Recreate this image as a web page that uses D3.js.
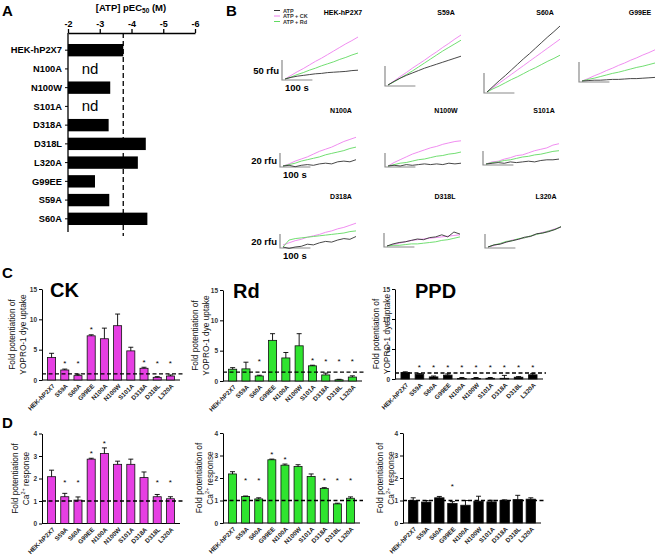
<!DOCTYPE html>
<html>
<head>
<meta charset="utf-8">
<script src="https://cdnjs.cloudflare.com/ajax/libs/d3/7.8.5/d3.min.js"></script>
<style>
body { margin: 0; background: #fff; }
svg { display: block; font-family: "Liberation Sans", Arial, sans-serif; }
</style>
</head>
<body>
<svg id="chart" width="658" height="560"></svg>
<script>
// ---- panel A : pEC50 ----
var mutantsA = ["HEK-hP2X7", "N100A", "N100W", "S101A", "D318A", "D318L", "L320A", "G99EE", "S59A", "S60A"];
var pec50 = [-3.74, null, -3.33, null, -3.28, -4.45, -4.2, -2.85, -3.3, -4.5];
var pec50Ticks = [-2, -3, -4, -5, -6];
var pec50Wt = -3.74;

// ---- panel B : dye uptake traces (rfu every 20 s) ----
var traceTime = [0, 20, 40, 60, 80, 100, 120, 140, 160, 180, 200, 220, 240];
var traceNames = ["HEK-hP2X7", "S59A", "S60A", "G99EE", "N100A", "N100W", "S101A", "D318A", "D318L", "L320A"];
var legendNames = ["ATP", "ATP + CK", "ATP + Rd"];
var traceAtp = [
    [0, 4, 7, 9, 11, 13, 14, 16, 17, 18, 19, 21, 22],
    [0, 9, 17, 24, 30, 36, 42, 47, 52, 57, 62, 67, 72],
    [0, 14, 28, 41, 55, 69, 83, 96, 110, 124, 138, 151, 165],
    [0, 1, 2, 2, 3, 4, 4, 5, 6, 6, 7, 8, 9],
    [0, 1, -1, 1, 2, 1, 3, 4, 3, 6, 7, 6, 9],
    [0, 1, 0, 2, 1, 2, 3, 2, 3, 2, 4, 3, 4],
    [0, 1, 2, 1, 3, 2, 3, 4, 3, 5, 6, 6, 7],
    [0, -2, 0, 1, 4, 3, 6, 8, 7, 10, 12, 11, 15],
    [0, 3, 5, 6, 8, 10, 9, 12, 13, 16, 13, 20, 17],
    [0, 3, 4, 7, 9, 11, 14, 15, 19, 20, 22, 25, 29]
];
var traceCk = [
    [0, 9, 18, 26, 35, 44, 52, 61, 70, 79, 88, 96, 105],
    [0, 10, 21, 31, 42, 52, 62, 73, 83, 94, 104, 115, 125],
    [0, 11, 22, 33, 44, 55, 66, 77, 88, 99, 110, 121, 132],
    [0, 6, 13, 19, 26, 32, 39, 45, 52, 58, 65, 71, 78],
    [0, 3, 7, 10, 13, 17, 21, 24, 27, 31, 35, 38, 41],
    [0, 5, 9, 13, 17, 20, 23, 26, 28, 31, 33, 35, 36],
    [0, 3, 4, 7, 9, 12, 13, 16, 19, 21, 23, 27, 29],
    [3, 6, 9, 11, 14, 16, 18, 21, 23, 26, 28, 31, 34],
    [0, 2, 4, 6, 8, 9, 10, 11, 12, 13, 14, 15, 16],
    [0, 2, 5, 7, 10, 11, 13, 16, 18, 21, 23, 26, 28]
];
var traceRd = [
    [0, 5, 11, 16, 22, 27, 33, 38, 43, 49, 54, 60, 65],
    [0, 8, 17, 26, 35, 45, 55, 65, 75, 85, 94, 103, 112],
    [0, 8, 15, 23, 31, 38, 46, 54, 61, 69, 77, 84, 92],
    [0, 4, 7, 11, 15, 19, 22, 26, 30, 34, 37, 41, 45],
    [0, 2, 4, 7, 9, 11, 13, 16, 18, 20, 22, 25, 27],
    [0, 2, 4, 5, 7, 9, 10, 12, 14, 15, 17, 18, 20],
    [0, 2, 3, 5, 6, 8, 10, 11, 13, 14, 16, 18, 19],
    [0, 10, 12, 13, 14, 15, 16, 17, 18, 19, 20, 22, 23],
    [0, 1, 1, 2, 3, 3, 4, 5, 6, 8, 9, 11, 13],
    [0, 3, 5, 8, 9, 12, 13, 16, 18, 20, 23, 25, 29]
];

// ---- panels C and D : fold potentiation ----
var mutants = ["HEK-hP2X7", "S59A", "S60A", "G99EE", "N100A", "N100W", "S101A", "D318A", "D318L", "L320A"];
var yoproTicks = [0, 5, 10, 15];
var caTicks = [0, 1, 2, 3, 4];

var yoproCk = [3.7, 1.65, 0.72, 7.28, 6.8, 8.95, 4.8, 1.93, 0.44, 0.66];
var yoproCkErr = [4.4, 1.8, 0.95, 7.45, 8.55, 10.87, 5.4, 2.1, 0.55, 0.83];
var yoproCkStar = [0, 1, 1, 1, 0, 0, 0, 1, 1, 1];
var yoproRd = [1.94, 2.0, 0.83, 6.7, 3.8, 5.8, 2.5, 1.0, 0.2, 0.65];
var yoproRdErr = [2.2, 3.1, 0.95, 7.8, 4.7, 7.8, 2.6, 1.3, 0.28, 0.85];
var yoproRdStar = [0, 0, 1, 0, 0, 0, 1, 1, 1, 1];
var yoproPpd = [1.1, 0.8, 0.35, 0.65, 0.08, 0.08, 0.12, 0.12, 0.3, 0.7];
var yoproPpdErr = [1.2, 0.9, 0.5, 0.85, 0.25, 0.25, 0.25, 0.6, 0.4, 0.9];
var yoproPpdStar = [0, 1, 1, 1, 1, 1, 1, 1, 1, 1];

var caCk = [2.08, 1.19, 1.04, 2.86, 3.11, 2.63, 2.63, 2.04, 1.19, 1.10];
var caCkErr = [2.37, 1.34, 1.18, 2.9, 3.36, 2.77, 2.86, 2.29, 1.29, 1.19];
var caCkStar = [0, 1, 1, 1, 1, 0, 0, 0, 1, 1];
var caRd = [2.18, 1.18, 1.07, 2.81, 2.57, 2.51, 2.07, 1.54, 0.85, 1.10];
var caRdErr = [2.28, 1.2, 1.12, 2.84, 2.62, 2.59, 2.18, 1.57, 0.88, 1.16];
var caRdStar = [0, 1, 1, 1, 1, 0, 0, 1, 1, 1];
var caPpd = [1.0, 0.93, 1.12, 0.87, 0.79, 0.97, 0.94, 1.0, 1.04, 1.06];
var caPpdErr = [1.12, 1.0, 1.18, 0.95, 1.0, 1.19, 1.01, 1.03, 1.23, 1.12];
var caPpdStar = [0, 0, 0, 1, 0, 0, 0, 0, 0, 0];


var svg = d3.select("#chart");
var pink = "#e63fe3",
    green = "#2fe42f";

function letter(t, x, y) {
    svg.append("text").attr("x", x).attr("y", y).text(t)
        .style("font-size", "15px").style("font-weight", "bold");
}
letter("A", 2, 16);
letter("B", 226, 16);
letter("C", 2, 278);
letter("D", 2, 428);

// ================= A =================
var xA = d3.scaleLinear().domain([-2, -6]).range([68, 195]);
var yA = d3.scaleBand().domain(mutantsA).range([35, 234]).paddingInner(0.34).paddingOuter(0.48);

var gA = svg.append("g");
var title = gA.append("text").attr("x", 131).attr("y", 11).attr("text-anchor", "middle")
    .style("font-size", "9.5px").style("font-weight", "bold");
title.append("tspan").text("[ATP] pEC");
title.append("tspan").text("50").style("font-size", "6.5px").attr("dy", 2);
title.append("tspan").text(" (M)").attr("dy", -2);

gA.append("g")
    .attr("class", "axA")
    .attr("transform", "translate(0,33)")
    .call(d3.axisTop(xA).tickValues(pec50Ticks).tickSize(4).tickSizeOuter(0).tickPadding(2)
        .tickFormat(function(d) { return String(d); }));

gA.append("line").attr("x1", 68).attr("x2", 68).attr("y1", 33).attr("y2", 232)
    .attr("stroke", "#000").attr("stroke-width", 1.3);

gA.selectAll(".tkA").data(mutantsA).enter().append("line")
    .attr("x1", 65).attr("x2", 68)
    .attr("y1", function(d) { return yA(d) + yA.bandwidth() / 2; })
    .attr("y2", function(d) { return yA(d) + yA.bandwidth() / 2; })
    .attr("stroke", "#000");

gA.selectAll(".lblA").data(mutantsA).enter().append("text")
    .attr("x", 62)
    .attr("y", function(d) { return yA(d) + yA.bandwidth() / 2 + 3.3; })
    .attr("text-anchor", "end")
    .style("font-size", "9.3px").style("font-weight", "bold")
    .text(function(d) { return d; });

gA.selectAll(".barA").data(mutantsA).enter().append("rect")
    .filter(function(d, i) { return pec50[i] !== null; })
    .attr("x", 68)
    .attr("y", function(d) { return yA(d); })
    .attr("height", yA.bandwidth())
    .attr("width", function(d) { return xA(pec50[mutantsA.indexOf(d)]) - 68; })
    .attr("fill", "#000");

gA.selectAll(".ndA").data(mutantsA).enter().append("text")
    .filter(function(d, i) { return pec50[i] === null; })
    .attr("x", 90)
    .attr("y", function(d) { return yA(d) + yA.bandwidth() / 2 + 5; })
    .attr("text-anchor", "middle")
    .style("font-size", "15px")
    .text("nd");

gA.append("line").attr("x1", xA(pec50Wt)).attr("x2", xA(pec50Wt)).attr("y1", 33).attr("y2", 236)
    .attr("stroke", "#000").attr("stroke-width", 1.3).attr("stroke-dasharray", "5,3");

gA.selectAll(".axA text").style("font-size", "9px").style("font-weight", "bold");
gA.selectAll(".axA path, .axA line").attr("stroke", "#000").attr("stroke-width", 1.3);

// ================= B =================
var bPos = [[285, 79], [388, 85], [487, 92], [582, 81], [283, 166], [388, 166], [486, 164], [283, 247], [387, 246], [488, 247]];
var bTitleY = [15, 15, 15, 15, 113, 113, 113, 199, 199, 199];
var tx = d3.scaleLinear().domain([0, 240]).range([0, 73]);
var tyBig = d3.scaleLinear().domain([0, 50]).range([0, -20]);
var tySmall = d3.scaleLinear().domain([0, 20]).range([0, -14]);
var traceColor = ["#333333", "#ee80ee", "#62da62"];

traceNames.forEach(function(name, i) {
    var ty = i < 4 ? tyBig : tySmall;
    var bar = i < 4 ? 50 : 20;
    var g = svg.append("g").attr("transform", "translate(" + bPos[i][0] + "," + bPos[i][1] + ")");

    g.append("path")
        .attr("d", "M-3," + (1 + ty(bar)) + "V1H" + (tx(100) - 3))
        .attr("fill", "none").attr("stroke", "#8a8a8a").attr("stroke-width", 1.2);

    var line = d3.line()
        .x(function(d, j) { return tx(traceTime[j]); })
        .y(function(d) { return ty(d); });

    [traceCk[i], traceRd[i], traceAtp[i]].forEach(function(s, k) {
        g.append("path").datum(s).attr("d", line)
            .attr("fill", "none")
            .attr("stroke", traceColor[[1, 2, 0][k]])
            .attr("stroke-width", 0.9);
    });

    svg.append("text").attr("x", bPos[i][0] + 58).attr("y", bTitleY[i])
        .attr("text-anchor", "middle")
        .style("font-size", "7px").style("font-weight", "bold")
        .text(name);

    if (i === 0 || i === 4 || i === 7) {
        g.append("text").attr("x", -6).attr("y", 1 + ty(bar) / 2 + 3.5)
            .attr("text-anchor", "end")
            .style("font-size", "9.5px").style("font-weight", "bold")
            .text(bar + " rfu");
        g.append("text").attr("x", 0).attr("y", 12)
            .style("font-size", "9.5px").style("font-weight", "bold")
            .text("100 s");
    }
});

legendNames.forEach(function(n, k) {
    var y = 10.5 + k * 5.5;
    svg.append("line").attr("x1", 274).attr("x2", 280).attr("y1", y).attr("y2", y)
        .attr("stroke", traceColor[k]).attr("stroke-width", 1);
    svg.append("text").attr("x", 283).attr("y", y + 2)
        .style("font-size", "5.5px").style("font-weight", "bold").attr("fill", "#333")
        .text(n);
});

// ================= C / D =================
function barPanel(o) {
    var g = svg.append("g");
    var x = d3.scaleBand().domain(mutants).range([o.x0, o.x1]).paddingInner(o.pad || 0.39).paddingOuter(0.42);
    var y = d3.scaleLinear().domain([0, o.ymax]).range([o.yb, o.yt]);

    var ax = g.append("g").attr("transform", "translate(" + o.x0 + ",0)")
        .call(d3.axisLeft(y).tickValues(o.ticks).tickSize(3).tickSizeOuter(0).tickPadding(2)
            .tickFormat(d3.format("d")));
    ax.selectAll("text").style("font-size", "6.5px").style("font-weight", "bold").attr("fill", "#333");
    ax.selectAll("path, line").attr("stroke", "#000");

    g.append("line").attr("x1", o.x0).attr("x2", o.x1).attr("y1", o.yb).attr("y2", o.yb)
        .attr("stroke", "#000").attr("stroke-width", 1.2);

    g.selectAll(".bar").data(mutants).enter().append("rect")
        .attr("x", function(d) { return x(d); })
        .attr("width", x.bandwidth())
        .attr("y", function(d, i) { return y(o.vals[i]); })
        .attr("height", function(d, i) { return o.yb - y(o.vals[i]); })
        .attr("fill", o.color)
        .attr("stroke", "#111").attr("stroke-width", 0.8);

    g.selectAll(".err").data(mutants).enter().append("path")
        .attr("d", function(d, i) {
            var c = x(d) + x.bandwidth() / 2;
            return "M" + c + "," + y(o.vals[i]) + "V" + y(o.errs[i]) + "M" + (c - 2.5) + "," + y(o.errs[i]) + "H" + (c + 2.5);
        })
        .attr("stroke", "#000").attr("stroke-width", 0.9).attr("fill", "none");

    g.selectAll(".star").data(mutants).enter().append("text")
        .filter(function(d, i) { return o.stars[i] === 1; })
        .attr("x", function(d) { return x(d) + x.bandwidth() / 2; })
        .attr("y", function(d) {
            var i = mutants.indexOf(d);
            return Math.min(y(o.errs[i]) - 7, y(o.starFloor)) + 4.6;
        })
        .attr("text-anchor", "middle")
        .style("font-size", "8px")
        .text("*");

    g.append("line").attr("x1", o.x0).attr("x2", o.x1 + 3).attr("y1", y(o.ref)).attr("y2", y(o.ref))
        .attr("stroke", "#000").attr("stroke-width", 1.3).attr("stroke-dasharray", "4,2.5");

    g.selectAll(".xl").data(mutants).enter().append("text")
        .attr("transform", function(d) {
            return "translate(" + (x(d) + x.bandwidth() / 2 + 2) + "," + (o.yb + 5) + ") rotate(-45)";
        })
        .attr("text-anchor", "end")
        .attr("dy", "0.35em")
        .style("font-size", "6.3px").style("font-weight", "bold").attr("fill", "#222")
        .text(function(d) { return d; });

    if (o.title) {
        g.append("text").attr("x", o.tx).attr("y", o.ty)
            .style("font-size", "20px").style("font-weight", "bold")
            .text(o.title);
    }

    var yl = g.append("g").attr("transform", "translate(" + o.lx + "," + ((o.yb + o.yt) / 2) + ") rotate(-90)");
    yl.append("text").attr("text-anchor", "middle").attr("y", 0)
        .style("font-size", "8.3px").attr("fill", "#111")
        .text("Fold potentiation of");
    var l2 = yl.append("text").attr("text-anchor", "middle").attr("y", 10.5)
        .style("font-size", "8.3px").attr("fill", "#111");
    if (o.ca) {
        l2.append("tspan").text("Ca");
        l2.append("tspan").text("2+").style("font-size", "5.5px").attr("dy", -3.5);
        l2.append("tspan").text(" response").attr("dy", 3.5);
    } else {
        l2.text("YOPRO-1 dye uptake");
    }
}

barPanel({x0: 42, x1: 180, yb: 380, yt: 289, ymax: 15, ticks: yoproTicks, vals: yoproCk, errs: yoproCkErr,
    stars: yoproCkStar, starFloor: 3.1, ref: 1, color: pink, title: "CK", tx: 50, ty: 297, lx: 15});
barPanel({x0: 223, x1: 362, yb: 381, yt: 290, ymax: 15, ticks: yoproTicks, vals: yoproRd, errs: yoproRdErr,
    stars: yoproRdStar, starFloor: 3.6, ref: 1.45, color: green, title: "Rd", tx: 233, ty: 298, lx: 198});
barPanel({x0: 395, x1: 543, yb: 379, yt: 289, ymax: 15, ticks: yoproTicks, vals: yoproPpd, errs: yoproPpdErr,
    stars: yoproPpdStar, starFloor: 2.3, ref: 1, color: "#000", title: "PPD", tx: 415, ty: 298, lx: 379});

barPanel({x0: 42, x1: 180, yb: 523.5, yt: 433.5, ymax: 4, ticks: caTicks, vals: caCk, errs: caCkErr,
    stars: caCkStar, starFloor: 1.9, ref: 1, color: pink, lx: 18, ca: true});
barPanel({x0: 223, x1: 360, yb: 523, yt: 433, ymax: 4, ticks: caTicks, vals: caRd, errs: caRdErr,
    stars: caRdStar, starFloor: 2.0, ref: 1, color: green, lx: 202, ca: true});
barPanel({x0: 403, x1: 541, yb: 523, yt: 433, ymax: 4, ticks: caTicks, vals: caPpd, errs: caPpdErr,
    stars: caPpdStar, starFloor: 1.7, ref: 1, color: "#000", lx: 383, ca: true, pad: 0.28});
</script>
</body>
</html>
